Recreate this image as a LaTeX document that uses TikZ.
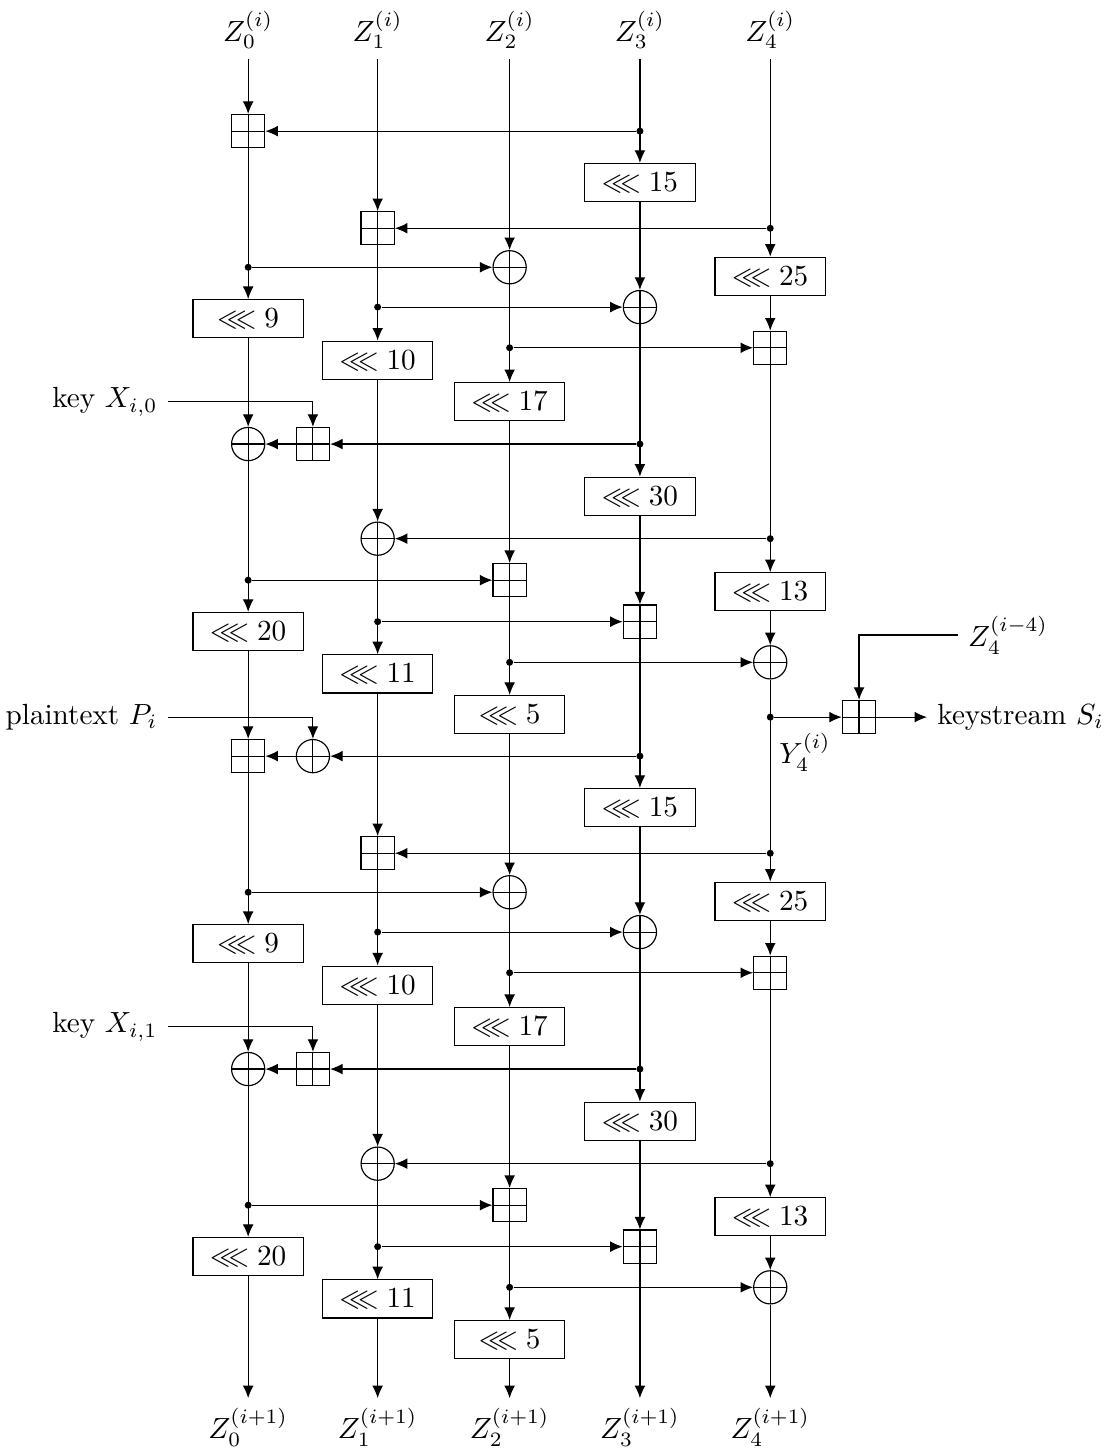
\documentclass[tikz,border=0pt]{standalone}
\usepackage{amsmath,amssymb}
\usetikzlibrary{arrows.meta,positioning}

\tikzset{
  flow/.style={-{Latex[length=4.3pt,width=3.7pt]}},
  rotbox/.style={draw, minimum width=1.33cm, minimum height=0.46cm, inner sep=0pt},
  xorop/.style={draw, circle, minimum size=0.4cm, inner sep=0pt,
    path picture={\draw (path picture bounding box.north) -- (path picture bounding box.south)
      (path picture bounding box.west) -- (path picture bounding box.east);}},
  addop/.style={draw, rectangle, minimum size=0.4cm, inner sep=0pt,
    path picture={\draw (path picture bounding box.north) -- (path picture bounding box.south)
      (path picture bounding box.west) -- (path picture bounding box.east);}},
  branch/.style={circle, fill, inner sep=0pt, minimum size=2.4pt},
}

\begin{document}
\begin{tikzpicture}
\useasboundingbox (0,0) rectangle (13.36,-17.47);

% state words in and out
\node (in0) at (2.99,-0.36) {$Z_0^{(i)}$};
\node (in1) at (4.55,-0.36) {$Z_1^{(i)}$};
\node (in2) at (6.14,-0.36) {$Z_2^{(i)}$};
\node (in3) at (7.71,-0.36) {$Z_3^{(i)}$};
\node (in4) at (9.28,-0.36) {$Z_4^{(i)}$};
\node (out0) at (2.99,-17.2) {$Z_0^{(i+1)}$};
\node (out1) at (4.55,-17.2) {$Z_1^{(i+1)}$};
\node (out2) at (6.14,-17.2) {$Z_2^{(i+1)}$};
\node (out3) at (7.71,-17.2) {$Z_3^{(i+1)}$};
\node (out4) at (9.28,-17.2) {$Z_4^{(i+1)}$};

% two half-rounds
\foreach \rd/\dy/\kx in {1/0/0, 2/7.53/1} {
  \node[addop] (add0\rd) at (2.99,{-1.58-\dy}) {};
  \node[branch] (d0a\rd) at (2.99,{-3.22-\dy}) {};
  \node[rotbox] (rot0a\rd) at (2.99,{-3.84-\dy}) {$\lll 9$};
  \node[xorop] (xor0\rd) at (2.99,{-5.35-\dy}) {};
  \node[branch] (d0b\rd) at (2.99,{-6.99-\dy}) {};
  \node[rotbox] (rot0b\rd) at (2.99,{-7.61-\dy}) {$\lll 20$};

  \node[addop] (add1\rd) at (4.55,{-2.75-\dy}) {};
  \node[branch] (d1a\rd) at (4.55,{-3.70-\dy}) {};
  \node[rotbox] (rot1a\rd) at (4.55,{-4.34-\dy}) {$\lll 10$};
  \node[xorop] (xor1\rd) at (4.55,{-6.49-\dy}) {};
  \node[branch] (d1b\rd) at (4.55,{-7.49-\dy}) {};
  \node[rotbox] (rot1b\rd) at (4.55,{-8.12-\dy}) {$\lll 11$};

  \node[xorop] (xor2\rd) at (6.14,{-3.22-\dy}) {};
  \node[branch] (d2a\rd) at (6.14,{-4.19-\dy}) {};
  \node[rotbox] (rot2a\rd) at (6.14,{-4.84-\dy}) {$\lll 17$};
  \node[addop] (add2\rd) at (6.14,{-6.99-\dy}) {};
  \node[branch] (d2b\rd) at (6.14,{-7.98-\dy}) {};
  \node[rotbox] (rot2b\rd) at (6.14,{-8.61-\dy}) {$\lll 5$};

  \node[branch] (d3a\rd) at (7.71,{-1.58-\dy}) {};
  \node[rotbox] (rot3a\rd) at (7.71,{-2.20-\dy}) {$\lll 15$};
  \node[xorop] (xor3\rd) at (7.71,{-3.70-\dy}) {};
  \node[branch] (d3b\rd) at (7.71,{-5.35-\dy}) {};
  \node[rotbox] (rot3b\rd) at (7.71,{-5.98-\dy}) {$\lll 30$};
  \node[addop] (add3\rd) at (7.71,{-7.49-\dy}) {};

  \node[branch] (d4a\rd) at (9.28,{-2.75-\dy}) {};
  \node[rotbox] (rot4a\rd) at (9.28,{-3.33-\dy}) {$\lll 25$};
  \node[addop] (add4\rd) at (9.28,{-4.19-\dy}) {};
  \node[branch] (d4b\rd) at (9.28,{-6.49-\dy}) {};
  \node[rotbox] (rot4b\rd) at (9.28,{-7.13-\dy}) {$\lll 13$};
  \node[xorop] (xor4\rd) at (9.28,{-7.98-\dy}) {};

  % key injection
  \node[addop] (addk\rd) at (3.77,{-5.35-\dy}) {};
  \node[anchor=east] (key\rd) at (2.02,{-4.84-\dy}) {key $X_{i,\kx}$};

  \draw[flow] (add0\rd) -- (rot0a\rd);
  \draw[flow] (rot0a\rd) -- (xor0\rd);
  \draw[flow] (xor0\rd) -- (rot0b\rd);
  \draw[flow] (add1\rd) -- (rot1a\rd);
  \draw[flow] (rot1a\rd) -- (xor1\rd);
  \draw[flow] (xor1\rd) -- (rot1b\rd);
  \draw[flow] (xor2\rd) -- (rot2a\rd);
  \draw[flow] (rot2a\rd) -- (add2\rd);
  \draw[flow] (add2\rd) -- (rot2b\rd);
  \draw[flow] (rot3a\rd) -- (xor3\rd);
  \draw[flow] (xor3\rd) -- (rot3b\rd);
  \draw[flow] (rot3b\rd) -- (add3\rd);
  \draw[flow] (rot4a\rd) -- (add4\rd);
  \draw[flow] (add4\rd) -- (rot4b\rd);
  \draw[flow] (rot4b\rd) -- (xor4\rd);

  \draw[flow] (d4a\rd) -- (add1\rd);
  \draw[flow] (d0a\rd) -- (xor2\rd);
  \draw[flow] (d1a\rd) -- (xor3\rd);
  \draw[flow] (d2a\rd) -- (add4\rd);
  \draw[flow] (d3b\rd) -- (addk\rd);
  \draw[flow] (addk\rd) -- (xor0\rd);
  \draw[flow] (key\rd) -| (addk\rd);
  \draw[flow] (d4b\rd) -- (xor1\rd);
  \draw[flow] (d0b\rd) -- (add2\rd);
  \draw[flow] (d1b\rd) -- (add3\rd);
  \draw[flow] (d2b\rd) -- (xor4\rd);
}

% entry
\draw[flow] (in0) -- (add01);
\draw[flow] (in1) -- (add11);
\draw[flow] (in2) -- (xor21);
\draw[flow] (in3) -- (rot3a1);
\draw[flow] (in4) -- (rot4a1);
\draw[flow] (d3a1) -- (add01);

% between the halves
\draw[flow] (rot0b1) -- (add02);
\draw[flow] (rot1b1) -- (add12);
\draw[flow] (rot2b1) -- (xor22);
\draw[flow] (add31) -- (rot3a2);
\draw[flow] (xor41) -- (rot4a2);

% plaintext
\node[xorop] (xorp) at (3.77,-9.11) {};
\node[anchor=east] (plain) at (2.02,-8.64) {plaintext $P_i$};
\draw[flow] (plain) -| (xorp);
\draw[flow] (d3a2) -- (xorp);
\draw[flow] (xorp) -- (add02);

% keystream output
\node[branch] (yout) at (9.28,-8.64) {};
\node[addop] (addo) at (10.35,-8.64) {};
\node[anchor=west] (stream) at (11.17,-8.64) {keystream $S_i$};
\node[anchor=west] (zprev) at (11.54,-7.65) {$Z_4^{(i-4)}$};
\node (ylab) at (9.70,-9.06) {$Y_4^{(i)}$};
\draw[flow] (yout) -- (addo);
\draw[flow] (addo) -- (stream);
\draw[flow] (zprev) -| (addo);

% exit
\draw[flow] (rot0b2) -- (out0);
\draw[flow] (rot1b2) -- (out1);
\draw[flow] (rot2b2) -- (out2);
\draw[flow] (add32) -- (out3);
\draw[flow] (xor42) -- (out4);
\end{tikzpicture}
\end{document}
